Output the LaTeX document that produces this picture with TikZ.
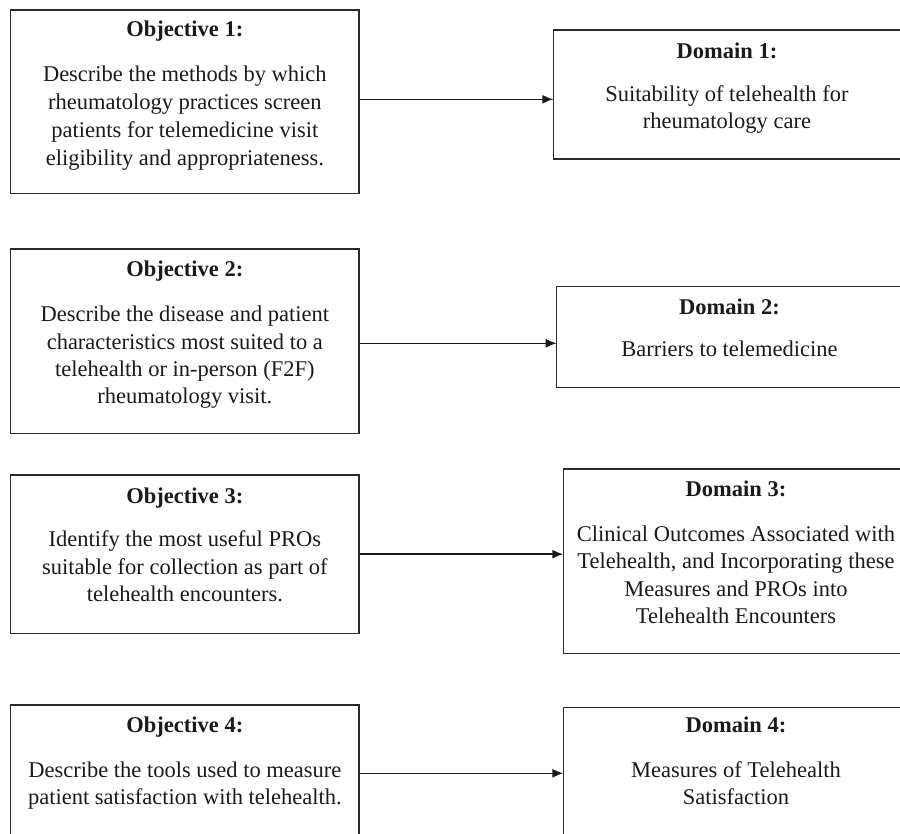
\documentclass[tikz,border=0pt]{standalone}
\usepackage{fontspec}
\setmainfont{Liberation Serif}
\usetikzlibrary{arrows.meta}
\definecolor{ink}{HTML}{1A1A1A}
\definecolor{edge}{HTML}{2A2A2A}
\newcommand\txtlines[2][27.3pt]{\vtop{\baselineskip=#1\lineskiplimit=-20pt\halign{\hfil##\hfil\cr#2\crcr}}}
\tikzset{
  box/.style={draw=edge, line width=1.4pt, rectangle, inner sep=0pt, outer sep=0pt},
  ttl/.style={anchor=base, inner sep=0pt, text=ink, font=\fontsize{22.5pt}{27.3pt}\selectfont\bfseries},
  body/.style={anchor=base, inner sep=0pt, text=ink, font=\fontsize{22.5pt}{27.3pt}\selectfont},
  arr/.style={draw=ink, line width=1.4pt, -{Latex[length=11pt,width=9pt]}}
}
\begin{document}
\begin{tikzpicture}[x=1pt,y=-1pt]
\clip (0,0) rectangle (900,834);
\fill[white] (0,0) rectangle (900,834);
% objective boxes
\node[box, minimum width=348.3pt, minimum height=183.7pt] (o1) at (184.85,101.85) {};
\node[box, minimum width=348.3pt, minimum height=184.3pt] (o2) at (184.85,341.15) {};
\node[box, minimum width=348.3pt, minimum height=158.3pt] (o3) at (184.85,554.15) {};
\node[box, minimum width=348.3pt, minimum height=131pt] (o4) at (184.85,770.5) {};
% domain boxes
\node[box, minimum width=347.4pt, minimum height=129pt] (d1) at (727,94.5) {};
\node[box, minimum width=345.6pt, minimum height=101pt] (d2) at (729.5,337.2) {};
\node[box, minimum width=345.4pt, minimum height=184.3pt] (d3) at (736,561.15) {};
\node[box, minimum width=345.4pt, minimum height=128.7pt] (d4) at (736,771.65) {};
% objective texts
\node[ttl] (o1t) at (184.85,36.7) {Objective 1:};
\node[body] (o1b) at (184.85,81.7) {\txtlines[27.8pt]{Describe the methods by which\cr rheumatology practices screen\cr patients for telemedicine visit\cr eligibility and appropriateness.}};
\node[ttl] (o2t) at (184.85,276.7) {Objective 2:};
\node[body] (o2b) at (184.85,321.7) {\txtlines[27.4pt]{Describe the disease and patient\cr characteristics most suited to a\cr telehealth or in-person (F2F)\cr rheumatology visit.}};
\node[ttl] (o3t) at (184.85,503.3) {Objective 3:};
\node[body] (o3b) at (184.85,546.7) {\txtlines[27.5pt]{Identify the most useful PROs\cr suitable for collection as part of\cr telehealth encounters.}};
\node[ttl] (o4t) at (184.85,732) {Objective 4:};
\node[body] (o4b) at (184.85,777.3) {\txtlines[26.7pt]{Describe the tools used to measure\cr patient satisfaction with telehealth.}};
% domain texts
\node[ttl] (d1t) at (727,58.3) {Domain 1:};
\node[body] (d1b) at (727,101.7) {\txtlines[26.7pt]{Suitability of telehealth for\cr rheumatology care}};
\node[ttl] (d2t) at (729.5,315) {Domain 2:};
\node[body] (d2b) at (729.5,356.7) {Barriers to telemedicine};
\node[ttl] (d3t) at (736,496.7) {Domain 3:};
\node[body] (d3b) at (736,541.7) {\txtlines[27.2pt]{Clinical Outcomes Associated with\cr Telehealth, and Incorporating these\cr Measures and PROs into\cr Telehealth Encounters}};
\node[ttl] (d4t) at (736,732.3) {Domain 4:};
\node[body] (d4b) at (736,777.3) {\txtlines[26.7pt]{Measures of Telehealth\cr Satisfaction}};
% connectors
\coordinate (a1) at ([yshift=2.55pt]o1.east);
\coordinate (a2) at ([yshift=-2.15pt]o2.east);
\coordinate (a3) at (o3.east);
\coordinate (a4) at ([yshift=-2.8pt]o4.east);
\draw[arr] (a1) -- (a1 -| d1.west);
\draw[arr] (a2) -- (a2 -| d2.west);
\draw[arr] (a3) -- (a3 -| d3.west);
\draw[arr] (a4) -- (a4 -| d4.west);
\end{tikzpicture}
\end{document}
